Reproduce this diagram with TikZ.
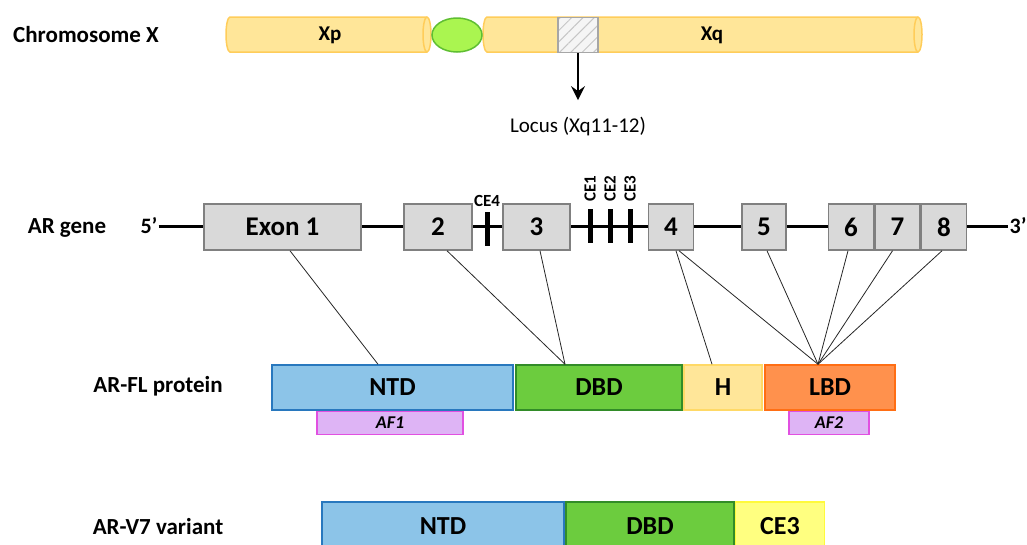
\documentclass[tikz,border=0pt]{standalone}
\usepackage{fontspec}
\setmainfont{Carlito}
\usepackage{tikz}
\usetikzlibrary{arrows,arrows.meta,positioning,shapes.geometric,patterns.meta}
\definecolor{chromfill}{RGB}{255,230,153}
\definecolor{chromline}{RGB}{255,205,90}
\definecolor{cenfill}{RGB}{170,245,80}
\definecolor{cenline}{RGB}{95,190,50}
\definecolor{exfill}{RGB}{217,217,217}
\definecolor{exline}{RGB}{128,128,128}
\definecolor{ntdfill}{RGB}{140,196,232}
\definecolor{ntdline}{RGB}{40,120,190}
\definecolor{dbdfill}{RGB}{108,204,62}
\definecolor{dbdline}{RGB}{50,140,40}
\definecolor{hline}{RGB}{255,217,102}
\definecolor{lbdfill}{RGB}{255,145,77}
\definecolor{lbdline}{RGB}{255,110,20}
\definecolor{affill}{RGB}{222,180,245}
\definecolor{afline}{RGB}{225,80,225}
\definecolor{cefill}{RGB}{255,255,128}
\definecolor{celine}{RGB}{255,250,60}
\tikzstyle{rowlab}=[font=\fontsize{23}{26}\selectfont\bfseries]
\tikzstyle{chrom}=[draw=chromline,fill=chromfill,line width=1.5pt]
\tikzstyle{exon}=[draw=exline,fill=exfill,line width=1.5pt,minimum height=46pt,inner sep=0pt,font=\fontsize{27}{28}\selectfont\bfseries]
\tikzstyle{cebar}=[fill=black,minimum width=5pt,minimum height=34pt,inner sep=0pt]
\tikzstyle{celab}=[inner sep=1pt,font=\fontsize{17}{18}\selectfont\bfseries]
\tikzstyle{dom}=[line width=1.5pt,minimum height=45pt,inner sep=0pt,font=\fontsize{26}{28}\selectfont\bfseries]
\tikzstyle{af}=[draw=afline,fill=affill,line width=1.2pt,minimum height=23pt,inner sep=0pt,font=\fontsize{18}{20}\selectfont\bfseries\itshape]
\tikzstyle{link}=[draw=black!85,line width=0.8pt]
\tikzstyle{arrow}=[line width=2pt,-{Stealth[length=14pt,width=14pt,inset=5pt]},draw=black]

\begin{document}
\begin{tikzpicture}[x=1pt,y=-1pt,node distance=2pt]
        \useasboundingbox (0,0) rectangle (1027,544);
        % chromosome X
        \node (chrx) [rowlab] at (86,35) {Chromosome X};
        \draw[chrom] (230,17) -- (427,17) arc[start angle=-90,end angle=90,x radius=4,y radius=17.5] -- (230,52) arc[start angle=90,end angle=270,x radius=4,y radius=17.5] -- cycle;
        \draw[draw=chromline,line width=1.5pt] (427,17) arc[start angle=-90,end angle=-270,x radius=4,y radius=17.5];
        \draw[chrom] (487,17) -- (918,17) arc[start angle=-90,end angle=90,x radius=4,y radius=17.5] -- (487,52) arc[start angle=90,end angle=270,x radius=4,y radius=17.5] -- cycle;
        \draw[draw=chromline,line width=1.5pt] (918,17) arc[start angle=-90,end angle=-270,x radius=4,y radius=17.5];
        \node (cen) [ellipse,draw=cenline,fill=cenfill,line width=1.5pt,minimum width=50pt,minimum height=34pt] at (457,35) {};
        \node (xp) [font=\fontsize{21}{22}\selectfont\bfseries] at (330,35) {Xp};
        \node (xq) [font=\fontsize{21}{22}\selectfont\bfseries] at (712,35) {Xq};
        \node (locus) [draw=gray!70,line width=1.5pt,minimum width=40pt,minimum height=35pt,inner sep=0pt,preaction={fill=white!92!gray},pattern={Lines[angle=45,distance=8pt,line width=1pt]},pattern color=gray!45] at (578,35) {};
        \node (loc) [font=\fontsize{21}{24}\selectfont] at (578,127) {Locus (Xq11-12)};
        \draw[arrow,shorten >=14pt] (locus) -- (loc);

        % AR gene
        \node (argene) [rowlab] at (67,228) {AR gene};
        \node (p5) [font=\fontsize{22}{24}\selectfont\bfseries,inner sep=1pt] at (149,226) {5’};
        \node (p3) [font=\fontsize{22}{24}\selectfont\bfseries,inner sep=1pt] at (1018,226) {3’};
        \draw[line width=3pt] (p5) -- (p3);
        \node (e1) [exon,minimum width=157pt] at (282.5,227) {Exon 1};
        \node (e2) [exon,minimum width=68pt] at (438,227) {2};
        \node (e3) [exon,minimum width=67pt] at (536.5,227) {3};
        \node (e4) [exon,minimum width=45pt] at (671,227) {4};
        \node (e5) [exon,minimum width=44pt] at (764,227) {5};
        \node (e6) [exon,minimum width=45pt] at (851,227) {6};
        \node (e7) [exon,minimum width=45pt] [right=0pt of e6] {7};
        \node (e8) [exon,minimum width=45pt] [right=0pt of e7] {8};
        \node (ce4) [cebar] at (487,229) {};
        \node (ce1) [cebar] at (590,226) {};
        \node (ce2) [cebar] at (610,226) {};
        \node (ce3) [cebar] at (630,226) {};
        \node (lce4) [celab] [above=4pt of ce4] {CE4};
        \node (lce1) [celab,rotate=90,anchor=west] at ([yshift=6pt]ce1.north) {CE1};
        \node (lce2) [celab,rotate=90,anchor=west] at ([yshift=6pt]ce2.north) {CE2};
        \node (lce3) [celab,rotate=90,anchor=west] at ([yshift=6pt]ce3.north) {CE3};

        % AR-FL protein
        \node (arfl) [rowlab] at (158,386) {AR-FL protein};
        \node (ntd) [dom,draw=ntdline,fill=ntdfill,minimum width=241pt] at (392.5,387.5) {NTD};
        \node (dbd) [dom,draw=dbdline,fill=dbdfill,minimum width=166pt] at (599,387.5) {DBD};
        \node (h) [dom,draw=hline,fill=chromfill,minimum width=78pt] at (723,387.5) {H};
        \node (lbd) [dom,draw=lbdline,fill=lbdfill,minimum width=130pt] at (830,387.5) {LBD};
        \node (af1) [af,minimum width=146pt] at (390,423) {AF1};
        \node (af2) [af,minimum width=80pt] at (829,423) {AF2};

        \path[link] ([xshift=7.5pt]e1.south) edge ([xshift=-14.5pt]ntd.north);
        \path[link] ([xshift=9pt]e2.south) edge ([xshift=-34pt]dbd.north);
        \path[link] ([xshift=3.5pt]e3.south) edge ([xshift=-34pt]dbd.north);
        \path[link] ([xshift=5pt]e4.south) edge ([xshift=-11pt]h.north);
        \path[link] ([xshift=8pt]e4.south) edge ([xshift=-12pt]lbd.north);
        \path[link] ([xshift=3pt]e5.south) edge ([xshift=-12pt]lbd.north);
        \path[link] ([xshift=-3pt]e6.south) edge ([xshift=-12pt]lbd.north);
        \path[link] ([xshift=-5pt]e7.south) edge ([xshift=-12pt]lbd.north);
        \path[link] ([xshift=-2pt]e8.south) edge ([xshift=-12pt]lbd.north);

        % AR-V7 variant
        \node (arv7) [rowlab] at (158,527) {AR-V7 variant};
        \node (ntd7) [dom,draw=ntdline,fill=ntdfill,minimum width=242pt,minimum height=48pt] at (443,526) {NTD};
        \node (dbd7) [dom,draw=dbdline,fill=dbdfill,minimum width=168pt,minimum height=48pt] at (650,526) {DBD};
        \node (ce3p) [dom,draw=celine,fill=cefill,minimum width=89pt,minimum height=48pt] at (780,526) {CE3};
        %\path[link] (ce3) edge (ce3p);
    \end{tikzpicture}
\end{document}
